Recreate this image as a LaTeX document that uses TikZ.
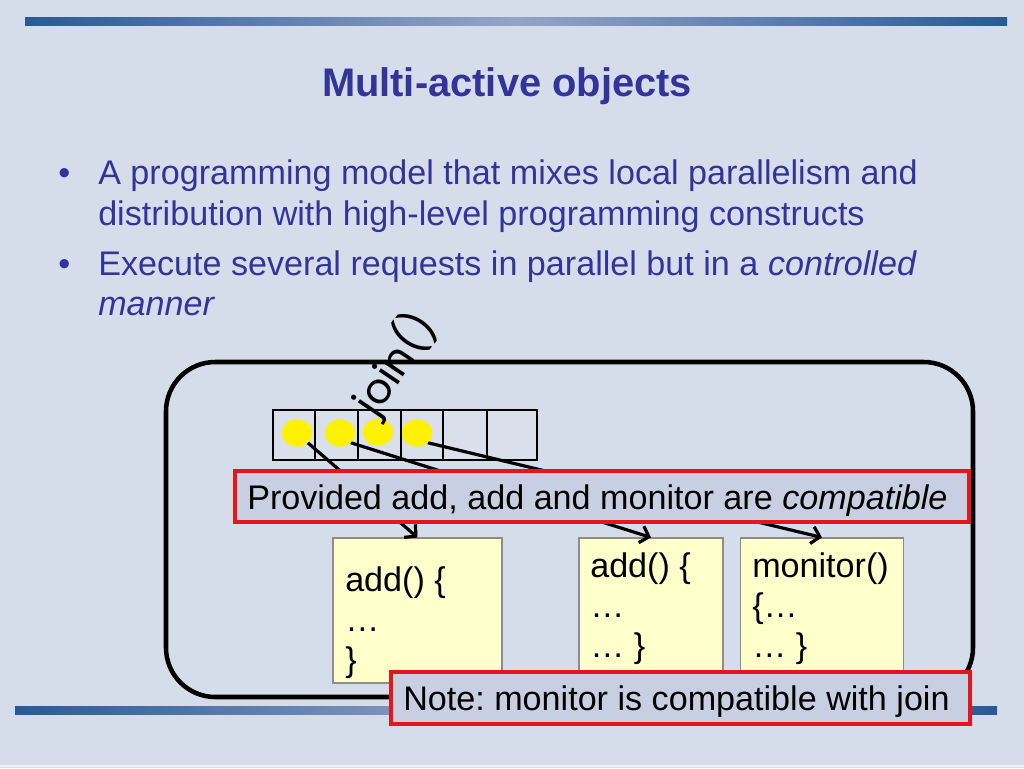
\documentclass[tikz,border=0pt]{standalone}
\usepackage{fontspec}
\setmainfont{Liberation Sans}
\newfontfamily\joinfont{Poppins}
\usetikzlibrary{arrows.meta,shapes.geometric}
\frenchspacing
\newcommand{\pxu}{0.75pt}
\definecolor{bgc}{HTML}{D6DDEA}
\definecolor{txtblue}{HTML}{333399}
\definecolor{barA}{HTML}{285A97}
\definecolor{barB}{HTML}{95A4C6}
\definecolor{notefill}{HTML}{C8CFE3}
\definecolor{redc}{HTML}{E8141C}
\definecolor{ylw}{HTML}{FFFFCC}
\definecolor{qfill}{HTML}{D9DFEB}
\tikzset{
  x=0.75pt, y=-0.75pt,
  body/.style={font=\fontsize{25.6}{30}\selectfont, inner sep=0pt, anchor=base west},
  bltext/.style={body, text=txtblue},
  redbox/.style={draw=redc, line width=2.3pt, fill=notefill},
  ybox/.style={draw=black!45, line width=0.8pt, fill=ylw, inner sep=0pt},
  dot/.style={ellipse, fill=yellow, draw=none, minimum width=30*\pxu, minimum height=27*\pxu, inner sep=0pt},
  arr/.style={line width=2.4pt, -{Straight Barb[length=6pt,width=13pt]}},
}
\begin{document}
\begin{tikzpicture}
\useasboundingbox (0,0) rectangle (1024,768);
\fill[bgc] (0,0) rectangle (1024,768);
\draw[white!60!bgc, line width=1pt] (0,766) -- (1024,766);
% top and bottom bars
\shade[left color=barA, right color=barA, middle color=barB] (25,17) rectangle (1007,25);
\shade[left color=barA, right color=barA, middle color=barB] (15,706) rectangle (997,714);
% title
\node[font=\fontsize{29.9}{36}\selectfont\bfseries, text=txtblue, anchor=base, inner sep=0pt] (title) at (507,96) {Multi-active objects};
% bullets
\node[bltext] (bu1) at (58,184) {\textbullet};
\node[bltext] (l1) at (98,184) {A programming model that mixes local parallelism and};
\node[bltext] (l2) at (98,225) {distribution with high-level programming constructs};
\node[bltext] (bu2) at (58,275) {\textbullet};
\node[bltext] (l3) at (98,275) {Execute several requests in parallel but in a \textit{controlled}};
\node[bltext] (l4) at (98,315) {\textit{manner}};
% big rounded rectangle
\draw[line width=3.4pt, rounded corners=37pt] (166,362) rectangle (973,697);
% queue
\draw[fill=qfill, line width=1.6pt] (273,410) rectangle (537,460);
\foreach \xx in {315,358,401,443,487} \draw[line width=0.9pt] (\xx,410) -- (\xx,460);
% yellow boxes
\node[ybox, minimum width=169*\pxu, minimum height=145*\pxu] (b1) at (417.5,610.5) {};
\node[ybox, minimum width=144*\pxu, minimum height=145*\pxu] (b2) at (651,610.5) {};
\node[ybox, minimum width=163*\pxu, minimum height=145*\pxu] (b3) at (822,610.5) {};
% circles and arrows
\node[dot] (c1) at (297,433) {};
\node[dot] (c2) at (340,433) {};
\node[dot] (c3) at (378,432) {};
\node[dot] (c4) at (417,433) {};
\draw[arr] (c1.south east) -- (b1.north);
\draw[arr] (c2.south east) -- (b2.north);
\draw[arr] (c4.south east) -- (b3.north);
\node[dot] at (c1) {};
\node[dot] at (c2) {};
\node[dot] at (c4) {};
% join()
\node[rotate=56, font=\joinfont\fontsize{31.5}{36}\selectfont, inner sep=0pt] (jn) at (395,364) {join()};
% provided box
\node[redbox, minimum width=734*\pxu, minimum height=51*\pxu, inner sep=0pt] (prov) at (602,496.5) {};
\node[body] (provt) at (247,509) {Provided add, add and monitor are \textit{compatible}};
% box texts
\node[body] (t11) at (345,591) {add() \{};
\node[body] (t12) at (345,631) {…};
\node[body] (t13) at (345,671) {\}};
\node[body] (t21) at (590,577) {add() \{};
\node[body] (t22) at (590,617) {…};
\node[body] (t23) at (590,657) {… \}};
\node[body] (t31) at (752,577) {monitor()};
\node[body] (t32) at (752,617) {\{…};
\node[body] (t33) at (752,657) {… \}};
% note box
\node[redbox, minimum width=579*\pxu, minimum height=52*\pxu, inner sep=0pt] (note) at (680.5,698) {};
\node[body] (notet) at (403,710) {Note: monitor is compatible with join};
\end{tikzpicture}
\end{document}
